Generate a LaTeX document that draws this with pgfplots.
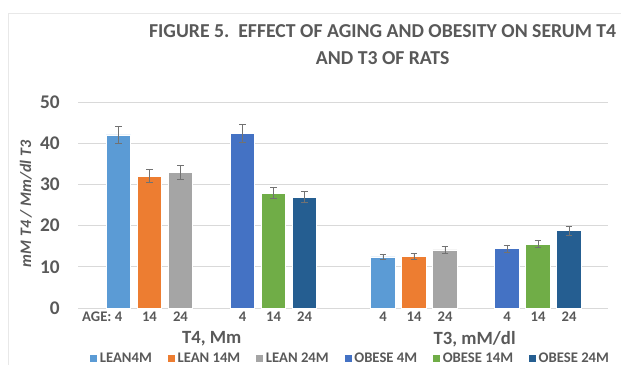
\documentclass[border=0pt]{standalone}
\usepackage{fontspec}
\setmainfont{Carlito}
\usepackage{pgfplots}
\pgfplotsset{compat=1.18}
\definecolor{c1}{HTML}{5B9BD5}
\definecolor{c2}{HTML}{ED7D31}
\definecolor{c3}{HTML}{A5A5A5}
\definecolor{c4}{HTML}{4472C4}
\definecolor{c5}{HTML}{70AD47}
\definecolor{c6}{HTML}{255E91}
\definecolor{txt}{HTML}{595959}
\definecolor{gridc}{HTML}{D9D9D9}
\begin{document}
\begin{tikzpicture}
\useasboundingbox (0,0) rectangle (465.75pt,-273.75pt);
\draw[gridc!60, line width=0.75pt] (6pt,-273.75pt) -- (6pt,-9.75pt) -- (465.75pt,-9.75pt);
\node[font=\fontsize{14.8}{20.5}\selectfont\bfseries, text=txt, align=center] at (287pt,-33.6pt) {FIGURE 5.\ \ EFFECT OF AGING AND OBESITY ON SERUM T4\\AND T3 OF RATS};
\begin{axis}[
  at={(58.5pt,-231pt)}, anchor=south west, scale only axis,
  width=397.5pt, height=154.5pt,
  xmin=-4.306, xmax=12.79, ymin=0, ymax=50, ytick={0,10,...,50},
  axis x line*=bottom, axis y line*=left,
  y axis line style={draw=none},
  x axis line style={draw=gridc, line width=0.75pt, -},
  ymajorgrids, grid style={draw=gridc, line width=0.75pt},
  major tick length=0pt,
  xtick={-3,-2,-1,1,2,3,5.532,6.532,7.532,9.532,10.532,11.532},
  xticklabels={\llap{AGE: }4,14,24,4,14,24,4,14,24,4,14,24},
  xticklabel style={font=\fontsize{11}{13}\selectfont\bfseries, text=txt, anchor=north, inner sep=0pt, yshift=-2.6pt},
  yticklabel style={font=\fontsize{14.5}{16}\selectfont\bfseries, text=txt, anchor=east, inner sep=0pt, xshift=-13.5pt},
  /pgf/number format/assume math mode=true,
  every axis plot/.append style={ybar, bar width=0.79, bar shift=0pt, draw=white, line width=0.5pt,
     error bars/y dir=both, error bars/y explicit,
     error bars/error bar style={draw=txt!85, line width=0.6pt},
     error bars/error mark options={rotate=90, mark size=2.6pt, draw=txt!85, line width=0.6pt}},
  legend columns=6,
  legend image code/.code={\fill[#1, draw=none] (0pt,-2.6pt) rectangle (5.25pt,2.6pt);},
  legend style={draw=none, fill=none, at={(0.515,-0.246)}, anchor=center,
     font=\fontsize{11}{13}\selectfont\bfseries, text=txt, inner sep=0pt,
     /tikz/every even column/.append style={column sep=10pt}},
]
\addplot[fill=c1] coordinates {(-3,42) +- (0,2.0) (5.532,12.4) +- (0,0.7)};
\addplot[fill=c2] coordinates {(-2,32) +- (0,1.6) (6.532,12.6) +- (0,0.7)};
\addplot[fill=c3] coordinates {(-1,32.9) +- (0,1.6) (7.532,14.1) +- (0,0.8)};
\addplot[fill=c4] coordinates {(1,42.4) +- (0,2.2) (9.532,14.4) +- (0,0.9)};
\addplot[fill=c5] coordinates {(2,27.9) +- (0,1.3) (10.532,15.5) +- (0,0.9)};
\addplot[fill=c6] coordinates {(3,26.9) +- (0,1.3) (11.532,18.8) +- (0,1.1)};
\legend{LEAN4M, LEAN 14M, LEAN 24M, OBESE 4M, OBESE 14M, OBESE 24M}
\end{axis}
\node[font=\fontsize{14}{16}\selectfont\bfseries, text=txt, anchor=north, inner sep=0pt] at (158.8pt,-248pt) {T4, Mm};
\node[font=\fontsize{14}{16}\selectfont\bfseries, text=txt, anchor=north, inner sep=0pt] at (356pt,-248pt) {T3, mM/dl};
\node[font=\fontsize{12}{14}\selectfont\bfseries\itshape, text=txt, rotate=90] at (19.5pt,-153pt) {mM T4 / Mm/dl T3};
\end{tikzpicture}
\end{document}
